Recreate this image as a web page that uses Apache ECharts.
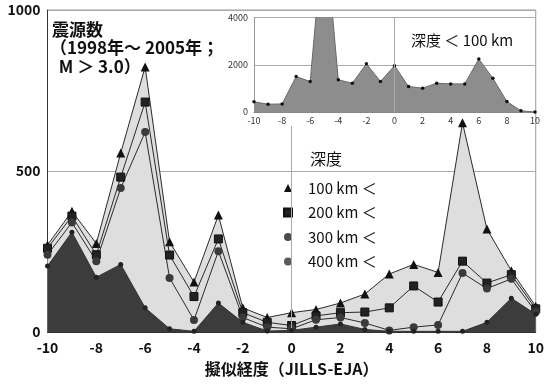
<!DOCTYPE html>
<html>
<head>
<meta charset="utf-8">
<script src="https://cdn.jsdelivr.net/npm/echarts@6/dist/echarts.min.js"></script>
<style>
  html, body { margin: 0; padding: 0; background: #fff; }
  #chart { width: 547px; height: 385px; }
</style>
</head>
<body>
<div id="chart"></div>
<script>
// Pseudo-longitude (JILLS-EJA) bins
const longitudes = [-10, -9, -8, -7, -6, -5, -4, -3, -2, -1, 0, 1, 2, 3, 4, 5, 6, 7, 8, 9, 10];

// Hypocenter counts (1998-2005, M > 3.0) by depth class
const deeper100 = [270, 375, 275, 556, 823, 280, 155, 363, 75, 45, 60, 70, 90, 118, 180, 210, 185, 650, 320, 190, 80];
const deeper200 = [260, 360, 240, 481, 714, 239, 110, 289, 60, 30, 20, 50, 60, 62, 75, 143, 93, 220, 152, 178, 72];
const deeper300 = [240, 340, 220, 447, 621, 168, 37, 251, 45, 15, 10, 38, 45, 28, 5, 15, 22, 183, 135, 165, 62];
const deeper400 = [205, 310, 170, 210, 75, 10, 2, 90, 30, 3, 5, 15, 25, 8, 2, 2, 2, 2, 30, 105, 55];

// Shallow events (depth < 100 km), shown in the inset
const shallow = [430, 330, 340, 1500, 1290, 8000, 1360, 1220, 2040, 1290, 1960, 1080, 1010, 1220, 1190, 1190, 2240, 1430, 440, 50, 0];

// Labels
const seriesNames = ['100 km ＜', '200 km ＜', '300 km ＜', '400 km ＜'];
const mainTicks = [0, 500, 1000];
const insetTicks = [0, 2000, 4000];
const titleLines = ['震源数', '（1998年～ 2005年；', ' M ＞ 3.0）'];
const legendTitle = '深度';
const insetTitle = '深度 ＜ 100 km';
const xAxisName = '擬似経度（JILLS-EJA）';

const FONT = '"Noto Sans CJK JP", "Liberation Sans", sans-serif';
const pairs = arr => longitudes.map((x, i) => [x, arr[i]]);
const plain = v => String(v);

const chart = echarts.init(document.getElementById('chart'), null, { renderer: 'canvas' });

const lineStyle = { color: '#2a2a2a', width: 1 };

const option = {
  animation: false,
  backgroundColor: '#ffffff',
  textStyle: { fontFamily: FONT },
  grid: [
    { left: 47.5, right: 4, top: 10, bottom: 53, show: true, borderColor: '#9a9a9a', borderWidth: 1, backgroundColor: 'transparent' },
    { left: 254, right: 12, top: 17.5, bottom: 273 }
  ],
  xAxis: [
    {
      gridIndex: 0, type: 'value', min: -10, max: 10, interval: 2,
      axisLine: { onZero: false, lineStyle: { color: '#333', width: 1 } },
      axisTick: { show: false },
      splitLine: { show: false },
      axisLabel: { color: '#111', fontSize: 14, fontWeight: 'bold', margin: 9, fontFamily: FONT, formatter: plain },
      name: xAxisName, nameLocation: 'middle', nameGap: 29,
      nameTextStyle: { color: '#111', fontSize: 16, fontWeight: 'bold', fontFamily: FONT }
    },
    {
      gridIndex: 1, type: 'value', min: -10, max: 10, interval: 2,
      axisLine: { onZero: false, lineStyle: { color: '#888', width: 1 } },
      axisTick: { show: false },
      splitLine: { show: false },
      axisLabel: { color: '#333', fontSize: 9, margin: 4, fontFamily: FONT, formatter: plain }
    }
  ],
  yAxis: [
    {
      gridIndex: 0, type: 'value', min: mainTicks[0], max: mainTicks[2], interval: 500,
      axisLine: { show: true, onZero: false, lineStyle: { color: '#333', width: 1 } },
      axisTick: { show: false },
      splitLine: { show: true, lineStyle: { color: '#aaaaaa', width: 1 } },
      axisLabel: { color: '#111', fontSize: 14, fontWeight: 'bold', margin: 7, fontFamily: FONT, formatter: plain }
    },
    {
      gridIndex: 1, type: 'value', min: insetTicks[0], max: insetTicks[2], interval: 2000,
      axisLine: { show: true, onZero: false, lineStyle: { color: '#999', width: 1 } },
      axisTick: { show: false },
      splitLine: { show: true, lineStyle: { color: '#aaaaaa', width: 1 } },
      axisLabel: { color: '#333', fontSize: 9, margin: 6, fontFamily: FONT, formatter: plain }
    }
  ],
  legend: {
    orient: 'vertical', left: 278, top: 175.5,
    itemWidth: 8, itemHeight: 8, itemGap: 9.5,
    selectedMode: false,
    textStyle: { color: '#111', fontSize: 15, lineHeight: 15, fontFamily: FONT, padding: [0, 0, 0, 11] },
    data: [
      { name: seriesNames[0], icon: 'triangle', itemStyle: { color: '#111' } },
      { name: seriesNames[1], icon: 'rect', itemStyle: { color: '#222', borderColor: '#111' } },
      { name: seriesNames[2], icon: 'circle', itemStyle: { color: '#4a4a4a' } },
      { name: seriesNames[3], icon: 'circle', itemStyle: { color: '#5a5a5a' } }
    ]
  },
  graphic: [
    { type: 'text', left: 52, top: 21, z: 10, style: { text: titleLines[0], fontSize: 17, fontWeight: 'bold', fill: '#111', fontFamily: FONT } },
    { type: 'text', left: 50, top: 39.5, z: 10, style: { text: titleLines[1], fontSize: 17, fontWeight: 'bold', fill: '#111', fontFamily: FONT } },
    { type: 'text', left: 55, top: 58, z: 10, style: { text: titleLines[2], fontSize: 17, fontWeight: 'bold', fill: '#111', fontFamily: FONT } },
    { type: 'text', left: 310, top: 151, z: 10, style: { text: legendTitle, fontSize: 16, fill: '#111', fontFamily: FONT } },
    { type: 'text', left: 411, top: 33, z: 10, style: { text: insetTitle, fontSize: 15, fill: '#111', fontFamily: FONT } }
  ],
  series: [
    {
      name: 'shallow', type: 'line', xAxisIndex: 1, yAxisIndex: 1,
      data: pairs(shallow), z: 1,
      symbol: 'circle', symbolSize: 3.5,
      itemStyle: { color: '#111' },
      lineStyle: { color: '#6a6a6a', width: 1 },
      areaStyle: { color: '#8d8d8d', opacity: 1 },
      markLine: {
        silent: true, symbol: 'none', label: { show: false },
        lineStyle: { color: '#aaaaaa', type: 'solid', width: 1 },
        data: [[{ coord: [0, 0] }, { coord: [0, 4000] }]]
      }
    },
    {
      name: seriesNames[0], type: 'line', xAxisIndex: 0, yAxisIndex: 0,
      data: pairs(deeper100), z: 3,
      symbol: 'triangle', symbolSize: 9,
      itemStyle: { color: '#111' },
      lineStyle: lineStyle,
      areaStyle: { color: '#dedede', opacity: 1 },
      markLine: {
        silent: true, symbol: 'none', label: { show: false },
        lineStyle: { color: '#aaaaaa', type: 'solid', width: 1 },
        data: [[{ coord: [0, 0] }, { coord: [0, 640] }]]
      }
    },
    {
      name: seriesNames[1], type: 'line', xAxisIndex: 0, yAxisIndex: 0,
      data: pairs(deeper200), z: 4,
      symbol: 'rect', symbolSize: 8,
      itemStyle: { color: '#222', borderColor: '#111', borderWidth: 1 },
      lineStyle: lineStyle
    },
    {
      name: seriesNames[2], type: 'line', xAxisIndex: 0, yAxisIndex: 0,
      data: pairs(deeper300), z: 4,
      symbol: 'circle', symbolSize: 8,
      itemStyle: { color: '#3a3a3a' },
      lineStyle: lineStyle
    },
    {
      name: seriesNames[3], type: 'line', xAxisIndex: 0, yAxisIndex: 0,
      data: pairs(deeper400), z: 5,
      symbol: 'circle', symbolSize: 5,
      itemStyle: { color: '#222' },
      lineStyle: { color: '#333', width: 1 },
      areaStyle: { color: '#3c3c3c', opacity: 1 }
    }
  ]
};

chart.setOption(option);
</script>
</body>
</html>
